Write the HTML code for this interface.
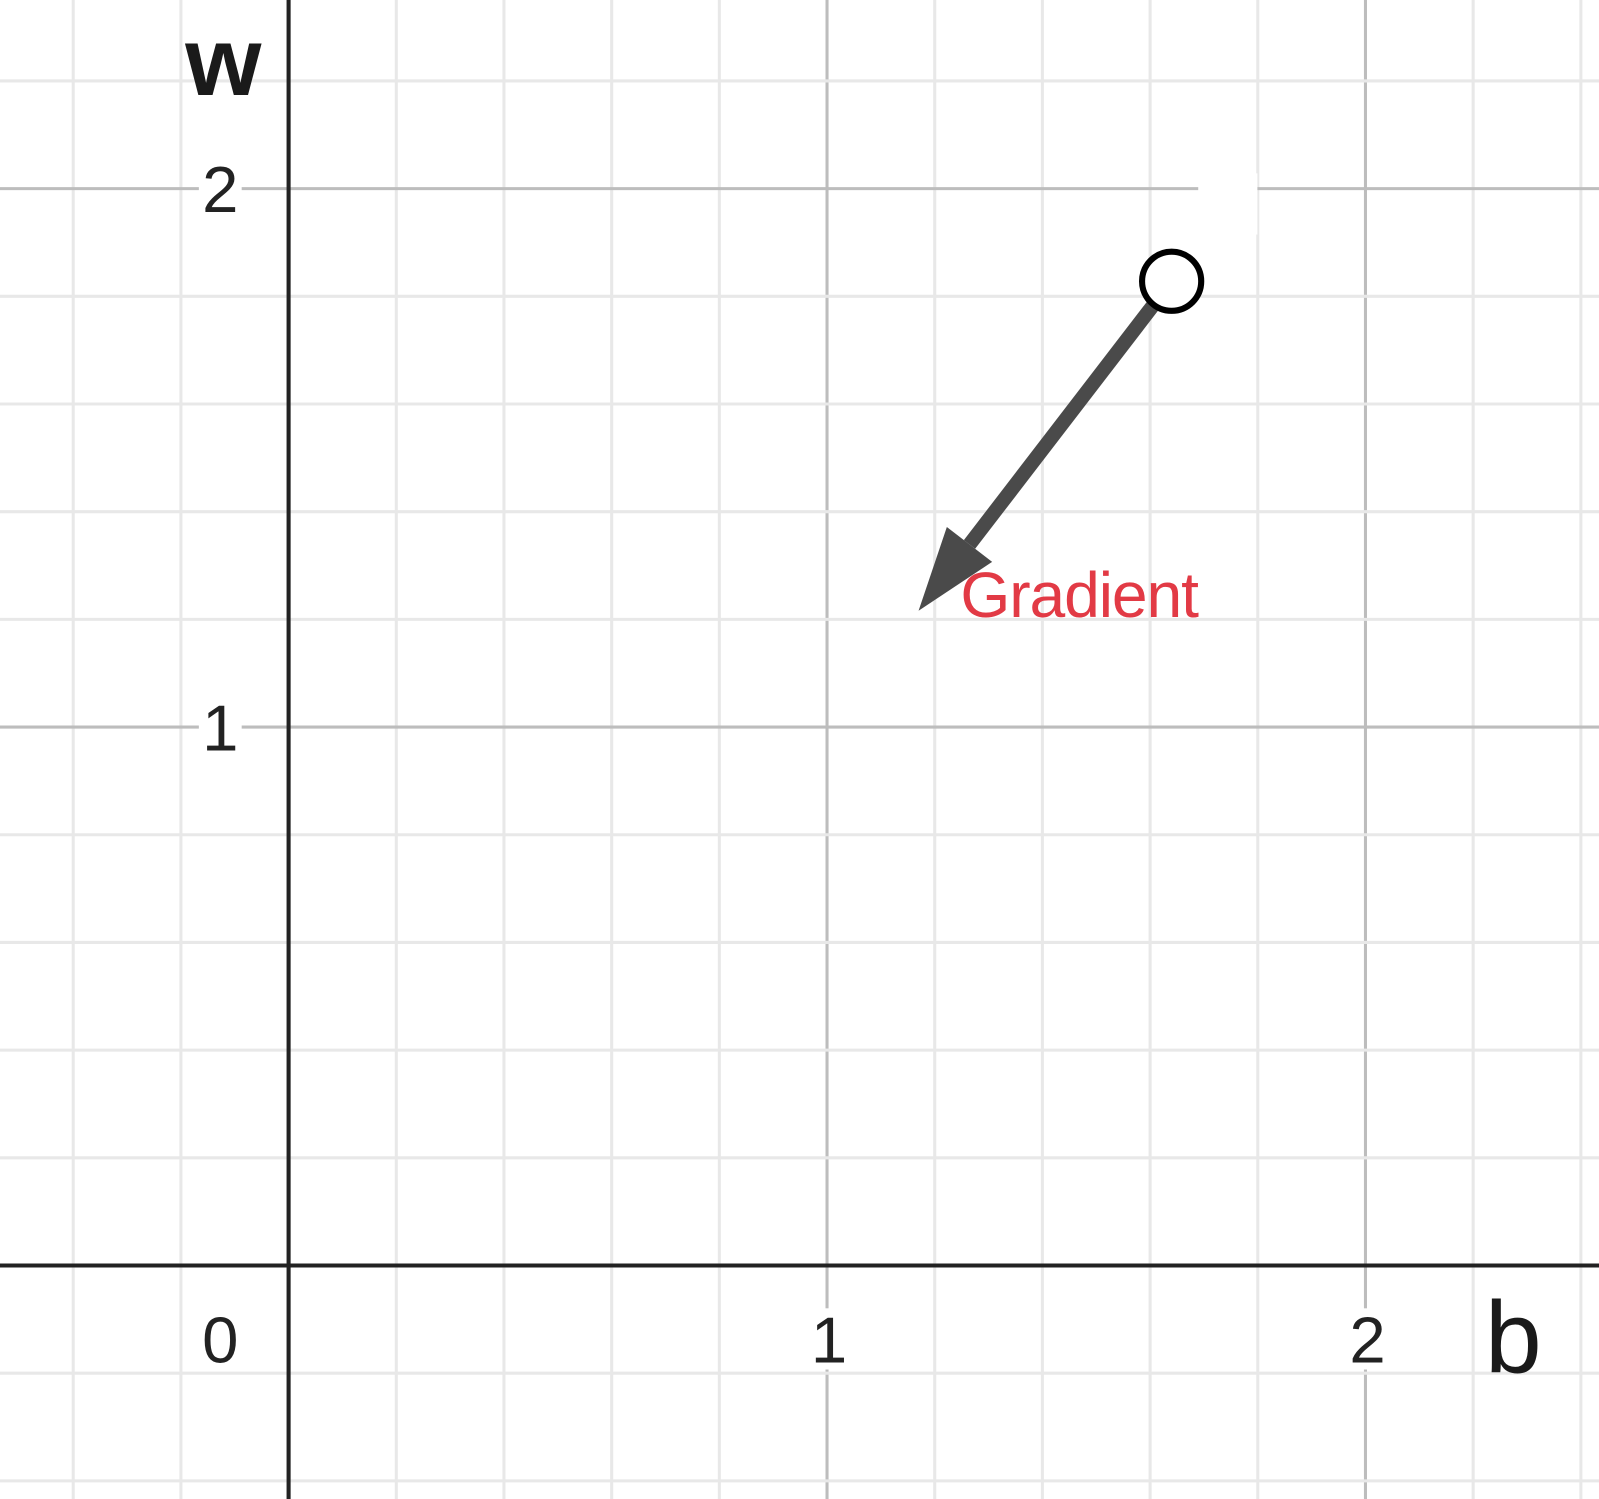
<!DOCTYPE html>
<html><head><meta charset="utf-8"><style>
html,body{margin:0;padding:0;background:#fff;}
svg{display:block;}
</style></head><body>
<svg id="chart" width="1599" height="1499" viewBox="0 0 1568 1470" preserveAspectRatio="none" xmlns="http://www.w3.org/2000/svg" font-family="'Liberation Sans', sans-serif">
<g id="grid"></g>
<g id="axes"></g>
<g id="labels"></g>
<g id="marks"></g>
</svg>
<script>
const xTicks = [0, 1, 2];
const yTicks = [1, 2];
const pointB = [1.64];
const pointW = [1.828];
const gradB = [1.17];
const gradW = [1.216];
const gradLabel = ["Gradient"];

const X0 = 283, Y0 = 1241, U = 528;
const sx = v => X0 + v * U;
const sy = v => Y0 - v * U;
const NS = "http://www.w3.org/2000/svg";
function mk(tag, attrs, parent, text) {
  const e = document.createElementNS(NS, tag);
  for (const k in attrs) e.setAttribute(k, attrs[k]);
  if (text !== undefined) e.textContent = text;
  parent.appendChild(e);
  return e;
}
const grid = document.getElementById('grid');
const axes = document.getElementById('axes');
const labels = document.getElementById('labels');
const marks = document.getElementById('marks');

for (let i = -3; i <= 12; i++) {
  const v = i / 5, major = i % 5 === 0;
  const l = mk('line', {x1: sx(v), x2: sx(v), y1: 0, y2: 1470, stroke: major ? '#bdbdbd' : '#e8e8e8', 'stroke-width': 3}, grid);
  
  
}
for (let i = -2; i <= 12; i++) {
  const v = i / 5, major = i % 5 === 0;
  const l = mk('line', {x1: 0, x2: 1568, y1: sy(v), y2: sy(v), stroke: major ? '#bdbdbd' : '#e8e8e8', 'stroke-width': 3}, grid);
  
  
}
const gap = mk('rect', {x: 1175, y: 170, width: 58, height: 60, fill: '#fff'}, grid);



const xa = mk('line', {x1: 0, x2: 1568, y1: Y0, y2: Y0, stroke: '#222', 'stroke-width': 4}, axes);


const ya = mk('line', {x1: X0, x2: X0, y1: 0, y2: 1470, stroke: '#222', 'stroke-width': 4}, axes);



xTicks.forEach(v => {
  const x = v === 0 ? 216 : sx(v) + 2;
  const bg = mk('rect', {x: x - 20, y: 1283, width: 40, height: 60, fill: '#fff'}, labels);
  
  
  const t = mk('text', {x: x, y: 1336, 'font-size': 64, fill: '#222', 'text-anchor': 'middle'}, labels, String(v));
  
  
});
yTicks.forEach(v => {
  const bg = mk('rect', {x: 195, y: sy(v) - 30, width: 42, height: 60, fill: '#fff'}, labels);
  
  
  const t = mk('text', {x: 216, y: sy(v) + 23, 'font-size': 64, fill: '#222', 'text-anchor': 'middle'}, labels, String(v));
  
  
});
const wl = mk('text', {x: 219, y: 93, 'font-size': 96, 'font-weight': 'bold', fill: '#1a1a1a', 'text-anchor': 'middle'}, labels, 'w');


const bl = mk('text', {x: 1484, y: 1346, 'font-size': 100, fill: '#1a1a1a', 'text-anchor': 'middle'}, labels, 'b');



const px = sx(pointB[0]), py = sy(pointW[0]);
const tx = sx(gradB[0]), ty = sy(gradW[0]);
const ang = Math.atan2(ty - py, tx - px);
const headLen = 82, headW = 28;
const bx = tx - headLen * Math.cos(ang), by = ty - headLen * Math.sin(ang);
const shaft = mk('line', {x1: px, y1: py, x2: bx, y2: by, stroke: '#4a4a4a', 'stroke-width': 14}, marks);


const nx = -Math.sin(ang), ny = Math.cos(ang);
const head = mk('polygon', {points: `${tx},${ty} ${bx + nx * headW},${by + ny * headW} ${bx - nx * headW},${by - ny * headW}`, fill: '#4a4a4a'}, marks);


const pt = mk('circle', {cx: px, cy: py, r: 29, fill: '#fff', stroke: '#000', 'stroke-width': 6}, marks);


const gl = mk('text', {x: tx + 41, y: ty + 6, 'font-size': 63, fill: '#e23a45', textLength: 234}, marks, gradLabel[0]);


</script>
</body></html>
